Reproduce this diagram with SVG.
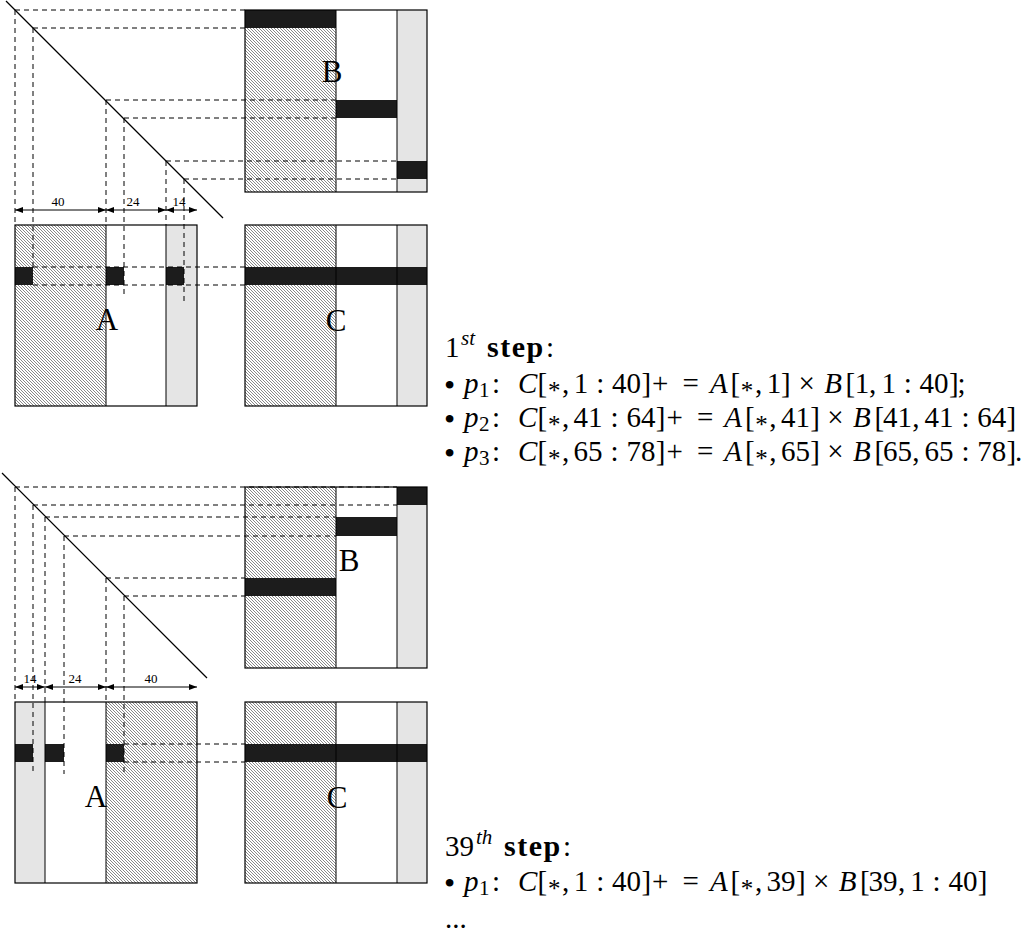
<svg xmlns="http://www.w3.org/2000/svg" width="1029" height="934" viewBox="0 0 1029 934">
<style>
.frame{fill:none;stroke:#000;stroke-width:1.2}
.col{stroke:#000;stroke-width:1}
.hat{fill:url(#hatch)}
.gray{fill:#e5e5e5}
.white{fill:#fff}
.blk{fill:#1c1c1c}
.dash{stroke:#000;stroke-width:1;stroke-dasharray:5,4;fill:none}
.diag{stroke:#000;stroke-width:1.2}
.dim{stroke:#000;stroke-width:1;marker-start:url(#arr);marker-end:url(#arr)}
.dl{font-family:"Liberation Serif",serif;font-size:13px;text-anchor:middle}
.ml{font-family:"Liberation Serif",serif;font-size:31px;text-anchor:middle}
.tx{font-family:"Liberation Serif",serif;font-size:29px}
.i{font-style:italic}
.b{font-weight:bold;font-size:30px;letter-spacing:1.5px}
.sub{font-size:21px}
.bul{font-size:32px}
.ast{font-size:25px}
</style>
<defs>
<pattern id="hatch" patternUnits="userSpaceOnUse" width="3" height="3">
<rect width="3" height="3" fill="#fff"/>
<path d="M0,0 L3,3 M-1,2 L1,4 M2,-1 L4,1" stroke="#555" stroke-width="0.7"/>
</pattern>
<marker id="arr" viewBox="0 0 8 6" refX="8" refY="3" markerWidth="8" markerHeight="6" markerUnits="userSpaceOnUse" orient="auto-start-reverse">
<path d="M0,0 L8,3 L0,6 z" fill="#000"/>
</marker>
</defs>

<!-- ===== Step 1 ===== -->
<g id="B1">
<rect x="245" y="10" width="91" height="182" class="hat"/>
<rect x="336" y="10" width="61" height="182" class="white"/>
<rect x="397" y="10" width="30" height="182" class="gray"/>
<rect x="245" y="10" width="91" height="18" class="blk"/>
<rect x="336" y="100" width="61" height="18" class="blk"/>
<rect x="397" y="161" width="30" height="18" class="blk"/>
<line x1="336" y1="10" x2="336" y2="192" class="col"/>
<line x1="397" y1="10" x2="397" y2="192" class="col"/>
<rect x="245" y="10" width="182" height="182" class="frame"/>
<text x="332" y="82" class="ml">B</text>
</g>
<g id="A1">
<rect x="15" y="225" width="91" height="181" class="hat"/>
<rect x="106" y="225" width="60" height="181" class="white"/>
<rect x="166" y="225" width="31" height="181" class="gray"/>
<rect x="15" y="267" width="18" height="18" class="blk"/>
<rect x="106" y="267" width="18" height="18" class="blk"/>
<rect x="166" y="267" width="18" height="18" class="blk"/>
<line x1="106" y1="225" x2="106" y2="406" class="col"/>
<line x1="166" y1="225" x2="166" y2="406" class="col"/>
<rect x="15" y="225" width="182" height="181" class="frame"/>
<text x="107" y="330" class="ml">A</text>
</g>
<g id="C1">
<rect x="245" y="225" width="91" height="181" class="hat"/>
<rect x="336" y="225" width="61" height="181" class="white"/>
<rect x="397" y="225" width="30" height="181" class="gray"/>
<rect x="245" y="267" width="182" height="18" class="blk"/>
<line x1="336" y1="225" x2="336" y2="406" class="col"/>
<line x1="397" y1="225" x2="397" y2="406" class="col"/>
<rect x="245" y="225" width="182" height="181" class="frame"/>
<text x="336" y="331" class="ml">C</text>
</g>

<!-- ===== Step 39 ===== -->
<g id="B2">
<rect x="245" y="487" width="91" height="181" class="hat"/>
<rect x="336" y="487" width="61" height="181" class="white"/>
<rect x="397" y="487" width="30" height="181" class="gray"/>
<rect x="397" y="487" width="30" height="18" class="blk"/>
<rect x="336" y="517" width="61" height="19" class="blk"/>
<rect x="245" y="578" width="91" height="18" class="blk"/>
<line x1="336" y1="487" x2="336" y2="668" class="col"/>
<line x1="397" y1="487" x2="397" y2="668" class="col"/>
<rect x="245" y="487" width="182" height="181" class="frame"/>
<text x="349" y="571" class="ml">B</text>
</g>
<g id="A2">
<rect x="15" y="702" width="30" height="181" class="gray"/>
<rect x="45" y="702" width="61" height="181" class="white"/>
<rect x="106" y="702" width="91" height="181" class="hat"/>
<rect x="15" y="744" width="18" height="18" class="blk"/>
<rect x="45" y="744" width="19" height="18" class="blk"/>
<rect x="106" y="744" width="18" height="18" class="blk"/>
<line x1="45" y1="702" x2="45" y2="883" class="col"/>
<line x1="106" y1="702" x2="106" y2="883" class="col"/>
<rect x="15" y="702" width="182" height="181" class="frame"/>
<text x="96" y="807" class="ml">A</text>
</g>
<g id="C2">
<rect x="245" y="702" width="91" height="181" class="hat"/>
<rect x="336" y="702" width="61" height="181" class="white"/>
<rect x="397" y="702" width="30" height="181" class="gray"/>
<rect x="245" y="744" width="182" height="18" class="blk"/>
<line x1="336" y1="702" x2="336" y2="883" class="col"/>
<line x1="397" y1="702" x2="397" y2="883" class="col"/>
<rect x="245" y="702" width="182" height="181" class="frame"/>
<text x="337" y="808" class="ml">C</text>
</g>

<g id="connectors">
<line x1="6" y1="1" x2="223" y2="218" class="diag"/>
<path class="dash" d="M15,10 H245 M33,28 H245 M106,100 H336 M124,118 H336 M166,161 H397 M184,179 H397"/>
<path class="dash" d="M15,10 V225 M33,28 V267 M106,100 V225 M124,118 V297 M166,161 V225 M184,179 V303"/>
<path class="dash" d="M33,267 H245 M33,285 H245"/>
<line x1="15" y1="210" x2="106" y2="210" class="dim"/>
<line x1="106" y1="210" x2="166" y2="210" class="dim"/>
<line x1="166" y1="210" x2="197" y2="210" class="dim"/>
<line x1="2" y1="473" x2="207" y2="678" class="diag"/>
<path class="dash" d="M15,487 H397 M33,505 H397 M45,517 H336 M64,536 H336 M106,578 H245 M124,596 H245"/>
<path class="dash" d="M15,487 V702 M33,505 V771 M45,517 V702 M64,536 V774 M106,578 V702 M124,596 V775"/>
<path class="dash" d="M124,744 H245 M124,762 H245"/>
<line x1="15" y1="687" x2="45" y2="687" class="dim"/>
<line x1="45" y1="687" x2="106" y2="687" class="dim"/>
<line x1="106" y1="687" x2="197" y2="687" class="dim"/>
</g>

<g id="dim-labels">
<text x="58" y="206" class="dl">40</text>
<text x="133" y="206" class="dl">24</text>
<text x="179" y="206" class="dl">14</text>
<text x="30" y="683" class="dl">14</text>
<text x="75" y="683" class="dl">24</text>
<text x="151" y="683" class="dl">40</text>
</g>

<g id="step1-text" class="tx">
<text y="357"><tspan x="445" y="357">1</tspan><tspan x="461" y="345" class="i sub">st</tspan><tspan x="487" y="357" class="b">step</tspan><tspan x="546" y="357">:</tspan></text>
<text y="393"><tspan x="444" y="396" class="bul">•</tspan><tspan x="464" y="393" class="i">p</tspan><tspan x="479" y="397" class="sub">1</tspan><tspan x="492" y="393">:</tspan><tspan x="518" class="i">C</tspan><tspan x="537.6">[</tspan><tspan x="548" y="399" class="ast">*</tspan><tspan x="562" y="393">,</tspan><tspan x="573.8">1</tspan><tspan x="596.2">:</tspan><tspan x="612">40</tspan><tspan x="641.5">]</tspan><tspan x="652">+</tspan><tspan x="682.5">=</tspan><tspan x="709.9" class="i">A</tspan><tspan x="730.5">[</tspan><tspan x="740.8" y="399" class="ast">*</tspan><tspan x="755" y="393">,</tspan><tspan x="766.7">1</tspan><tspan x="781.1">]</tspan><tspan x="798.5">×</tspan><tspan x="824.3" class="i">B</tspan><tspan x="845.6">[</tspan><tspan x="854.7">1</tspan><tspan x="869">,</tspan><tspan x="881.4">1</tspan><tspan x="903.8">:</tspan><tspan x="919.6">40</tspan><tspan x="949">]</tspan><tspan x="957.5">;</tspan></text>
<text y="427"><tspan x="444" y="430" class="bul">•</tspan><tspan x="464" y="427" class="i">p</tspan><tspan x="479" y="431" class="sub">2</tspan><tspan x="492" y="427">:</tspan><tspan x="518" class="i">C</tspan><tspan x="537.6">[</tspan><tspan x="548" y="433" class="ast">*</tspan><tspan x="562" y="427">,</tspan><tspan x="573.6">41</tspan><tspan x="610.6">:</tspan><tspan x="626.4">64</tspan><tspan x="655.8">]</tspan><tspan x="666.4">+</tspan><tspan x="696.9">=</tspan><tspan x="724.3" class="i">A</tspan><tspan x="744.9">[</tspan><tspan x="755.2" y="433" class="ast">*</tspan><tspan x="769.3" y="427">,</tspan><tspan x="780.9">41</tspan><tspan x="810.3">]</tspan><tspan x="827.3">×</tspan><tspan x="853.1" class="i">B</tspan><tspan x="874.4">[</tspan><tspan x="883">41</tspan><tspan x="912.3">,</tspan><tspan x="924.4">41</tspan><tspan x="961.4">:</tspan><tspan x="977.2">64</tspan><tspan x="1006.5">]</tspan></text>
<text y="461"><tspan x="444" y="464" class="bul">•</tspan><tspan x="464" y="461" class="i">p</tspan><tspan x="479" y="465" class="sub">3</tspan><tspan x="492" y="461">:</tspan><tspan x="518" class="i">C</tspan><tspan x="537.6">[</tspan><tspan x="548" y="467" class="ast">*</tspan><tspan x="562" y="461">,</tspan><tspan x="573.6">65</tspan><tspan x="610.6">:</tspan><tspan x="626.4">78</tspan><tspan x="655.8">]</tspan><tspan x="666.4">+</tspan><tspan x="696.9">=</tspan><tspan x="724.3" class="i">A</tspan><tspan x="744.9">[</tspan><tspan x="755.2" y="467" class="ast">*</tspan><tspan x="769.3" y="461">,</tspan><tspan x="780.9">65</tspan><tspan x="810.3">]</tspan><tspan x="827.3">×</tspan><tspan x="853.1" class="i">B</tspan><tspan x="874.4">[</tspan><tspan x="883">65</tspan><tspan x="912.3">,</tspan><tspan x="924.4">65</tspan><tspan x="961.4">:</tspan><tspan x="977.2">78</tspan><tspan x="1006.5">]</tspan><tspan x="1015">.</tspan></text>
</g>
<g id="step39-text" class="tx">
<text y="856"><tspan x="445" y="856">39</tspan><tspan x="476" y="844" class="i sub">th</tspan><tspan x="504" y="856" class="b">step</tspan><tspan x="563" y="856">:</tspan></text>
<text y="891"><tspan x="444" y="894" class="bul">•</tspan><tspan x="464" y="891" class="i">p</tspan><tspan x="479" y="895" class="sub">1</tspan><tspan x="492" y="891">:</tspan><tspan x="518" class="i">C</tspan><tspan x="537.6">[</tspan><tspan x="548" y="897" class="ast">*</tspan><tspan x="562" y="891">,</tspan><tspan x="573.8">1</tspan><tspan x="596.2">:</tspan><tspan x="612">40</tspan><tspan x="641.5">]</tspan><tspan x="652">+</tspan><tspan x="682.5">=</tspan><tspan x="709.9" class="i">A</tspan><tspan x="730.5">[</tspan><tspan x="740.8" y="897" class="ast">*</tspan><tspan x="755" y="891">,</tspan><tspan x="766.5">39</tspan><tspan x="795.9">]</tspan><tspan x="812.9">×</tspan><tspan x="838.7" class="i">B</tspan><tspan x="860">[</tspan><tspan x="868.6">39</tspan><tspan x="897.9">,</tspan><tspan x="910.2">1</tspan><tspan x="932.6">:</tspan><tspan x="948.4">40</tspan><tspan x="977.8">]</tspan></text>
<text x="445" y="928">...</text>
</g>
</svg>
